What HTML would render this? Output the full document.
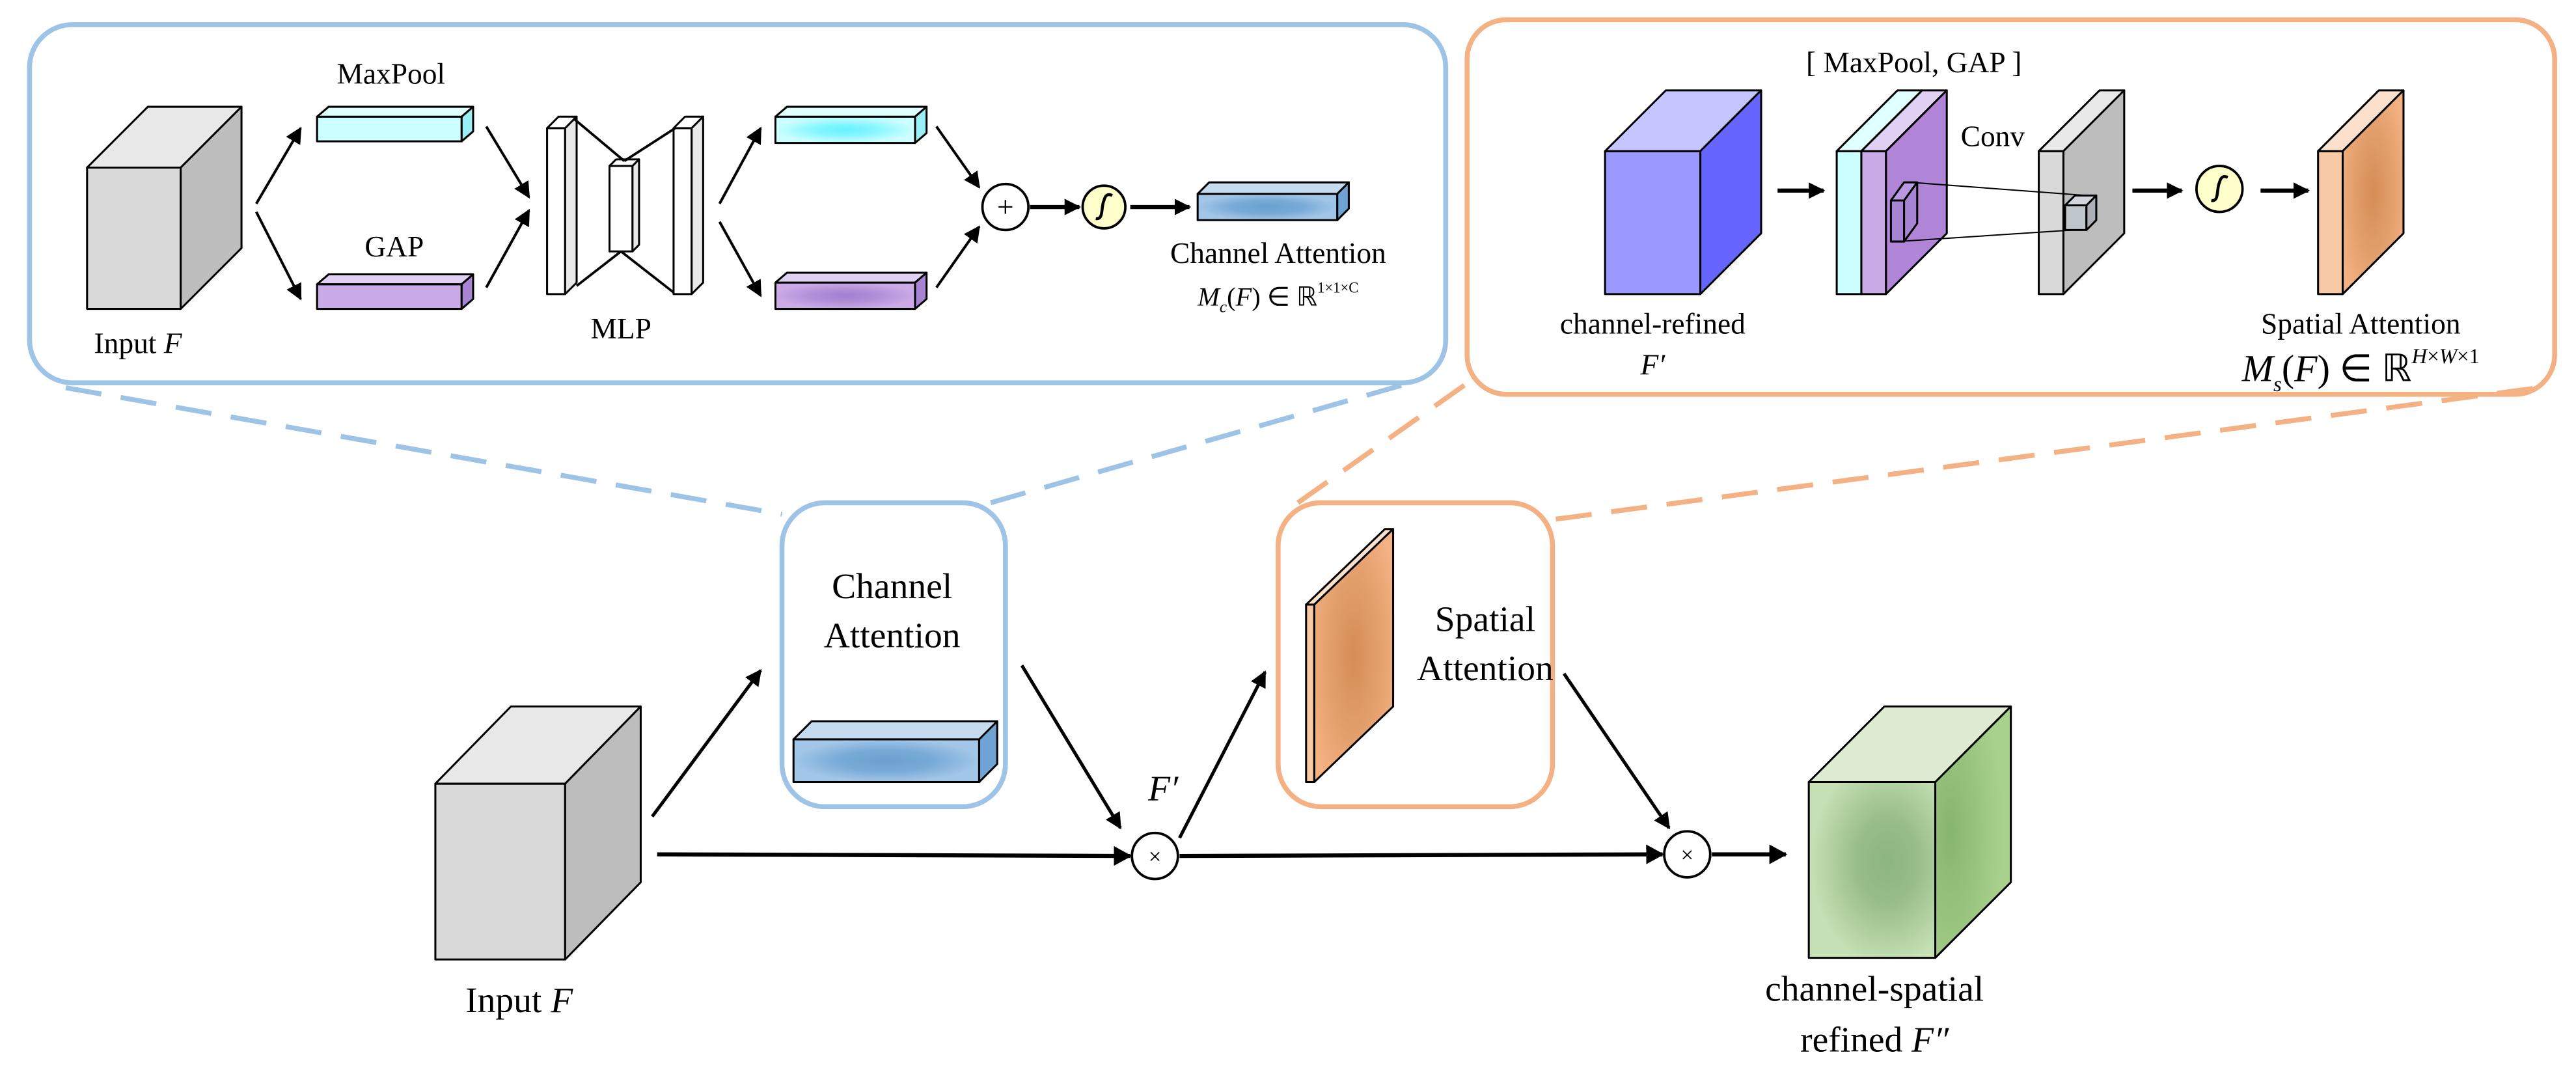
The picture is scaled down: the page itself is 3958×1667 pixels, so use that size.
<!DOCTYPE html>
<html><head><meta charset="utf-8"><style>html,body{margin:0;padding:0;background:#fff}svg{display:block}</style></head>
<body>
<svg width="3958" height="1667" viewBox="0 0 1568 660.4" xmlns="http://www.w3.org/2000/svg" font-family="'Liberation Serif', serif">
<defs>
<marker id="ah" markerWidth="10" markerHeight="10" refX="9" refY="5" orient="auto" markerUnits="userSpaceOnUse"><path d="M0,0 L10,5 L0,10 Z" fill="#000"/></marker>
<marker id="ah2" markerWidth="12" markerHeight="12" refX="10" refY="6" orient="auto" markerUnits="userSpaceOnUse"><path d="M0,0 L11,6 L0,12 Z" fill="#000"/></marker>
<radialGradient id="gb" cx="0.5" cy="0.5" r="0.5"><stop offset="0" stop-color="#6aa0cf"/><stop offset="0.5" stop-color="#78aad6"/><stop offset="1" stop-color="#a2c6e8"/></radialGradient>
<radialGradient id="gc" cx="0.5" cy="0.5" r="0.5"><stop offset="0" stop-color="#66f2ff"/><stop offset="0.45" stop-color="#88f6ff"/><stop offset="1" stop-color="#ccffff"/></radialGradient>
<radialGradient id="gp" cx="0.5" cy="0.5" r="0.5"><stop offset="0" stop-color="#a47ed2"/><stop offset="0.45" stop-color="#b08ed8"/><stop offset="1" stop-color="#cbaae6"/></radialGradient>
<radialGradient id="go" cx="0.5" cy="0.5" r="0.6"><stop offset="0" stop-color="#d68c55"/><stop offset="0.55" stop-color="#e3a06c"/><stop offset="1" stop-color="#f4b183"/></radialGradient>
<radialGradient id="gg" cx="0.62" cy="0.45" r="0.6"><stop offset="0" stop-color="#8db57e"/><stop offset="0.4" stop-color="#98bd88"/><stop offset="1" stop-color="#c5e0b4"/></radialGradient>
<radialGradient id="gs" cx="0.2" cy="0.5" r="0.7"><stop offset="0" stop-color="#86b56f"/><stop offset="1" stop-color="#a9d18e"/></radialGradient>
</defs>
<g stroke-linejoin="round">
<rect x="18" y="15" width="862" height="218" rx="26" fill="#fff" stroke="#9dc3e6" stroke-width="3"/>
<rect x="893" y="12" width="662" height="228" rx="24" fill="#fff" stroke="#f4b183" stroke-width="3"/>
<g stroke-width="3" stroke-dasharray="22,12" fill="none">
<line x1="40" y1="236" x2="476" y2="313" stroke="#9dc3e6"/>
<line x1="603" y1="306" x2="862" y2="232" stroke="#9dc3e6"/>
<line x1="790" y1="306" x2="892" y2="234" stroke="#f4b183"/>
<line x1="947" y1="316" x2="1545" y2="236" stroke="#f4b183"/>
</g>
<rect x="476" y="306" width="136" height="185" rx="26" fill="#fff" stroke="#9dc3e6" stroke-width="3"/>
<rect x="778" y="306" width="167" height="185" rx="26" fill="#fff" stroke="#f4b183" stroke-width="3"/>
</g>
<g stroke="#000" stroke-width="1.2" stroke-linejoin="round">
<rect x="265" y="477" width="79" height="107" fill="#d9d9d9"/>
<polygon points="265,477 311,430 390,430 344,477" fill="#e8e8e8"/>
<polygon points="344,477 390,430 390,537 344,584" fill="#bdbdbd"/>
<rect x="483" y="450" width="113" height="26" fill="url(#gb)"/>
<polygon points="483,450 494,439 607,439 596,450" fill="#c5dcf0"/>
<polygon points="596,450 607,439 607,465 596,476" fill="#6fa3d3"/>
<rect x="795" y="368" width="5" height="108" fill="#f6c8a4"/>
<polygon points="795,368 843,322 848,322 800,368" fill="#fbe0cc"/>
<polygon points="800,368 848,322 848,430 800,476" fill="url(#go)"/>
<rect x="1101" y="476" width="77" height="107" fill="url(#gg)"/>
<polygon points="1101,476 1147,430 1224,430 1178,476" fill="#dcebd2"/>
<polygon points="1178,476 1224,430 1224,537 1178,583" fill="url(#gs)"/>
</g>
<g stroke="#000" stroke-width="2" fill="none">
<line x1="397" y1="497" x2="463" y2="408" marker-end="url(#ah)"/>
<line x1="622" y1="405" x2="682" y2="504" marker-end="url(#ah)"/>
<line x1="400" y1="520" x2="688" y2="521" stroke-width="2.5" marker-end="url(#ah2)"/>
<line x1="718" y1="510" x2="770" y2="409" marker-end="url(#ah)"/>
<line x1="952" y1="410" x2="1016" y2="504" marker-end="url(#ah)"/>
<line x1="718" y1="521" x2="1012" y2="520" stroke-width="2.5" marker-end="url(#ah2)"/>
<line x1="1042" y1="520" x2="1087" y2="520" stroke-width="2.5" marker-end="url(#ah2)"/>
</g>
<circle cx="703" cy="521" r="14" fill="#fff" stroke="#000" stroke-width="1.5"/>
<text x="703" y="526" font-size="14" text-anchor="middle">×</text>
<circle cx="1027" cy="520" r="14" fill="#fff" stroke="#000" stroke-width="1.5"/>
<text x="1027" y="525" font-size="14" text-anchor="middle">×</text>
<g font-size="22" text-anchor="middle" fill="#000">
<text x="543" y="364">Channel</text>
<text x="543" y="394">Attention</text>
<text x="904" y="384">Spatial</text>
<text x="904" y="414">Attention</text>
<text x="316" y="616">Input <tspan font-style="italic">F</tspan></text>
<text x="1141" y="609">channel-spatial</text>
<text x="1141" y="640">refined  <tspan font-style="italic">F″</tspan></text>
<text x="708" y="487" font-style="italic">F′</text>
</g>

<g stroke="#000" stroke-width="1.2" stroke-linejoin="round">
<rect x="53" y="102" width="57" height="86" fill="#d9d9d9"/>
<polygon points="53,102 90,65 147,65 110,102" fill="#e8e8e8"/>
<polygon points="110,102 147,65 147,151 110,188" fill="#bdbdbd"/>
<rect x="193" y="71" width="88" height="15" fill="#ccffff"/>
<polygon points="193,71 200,65 288,65 281,71" fill="#e0ffff"/>
<polygon points="281,71 288,65 288,80 281,86" fill="#99f0f5"/>
<rect x="193" y="173" width="88" height="15" fill="#c9a9e6"/>
<polygon points="193,173 200,167 288,167 281,173" fill="#e0d0f2"/>
<polygon points="281,173 288,167 288,182 281,188" fill="#a884d4"/>
<rect x="333" y="78" width="11" height="101" fill="#fff"/>
<polygon points="333,78 340,71 351,71 344,78" fill="#fff"/>
<polygon points="344,78 351,71 351,172 344,179" fill="#e8e8e8"/>
<rect x="371" y="101" width="14" height="52" fill="#fff"/>
<polygon points="371,101 375,97 389,97 385,101" fill="#fff"/>
<polygon points="385,101 389,97 389,149 385,153" fill="#e8e8e8"/>
<rect x="410" y="78" width="11" height="101" fill="#fff"/>
<polygon points="410,78 417,71 428,71 421,78" fill="#fff"/>
<polygon points="421,78 428,71 428,172 421,179" fill="#e8e8e8"/>
<g fill="none" stroke-width="1.5">
<line x1="349" y1="72" x2="380" y2="98"/><line x1="380" y1="98" x2="411" y2="78"/>
<line x1="351" y1="174" x2="378" y2="153"/><line x1="378" y1="153" x2="410" y2="178"/>
</g>
<rect x="472" y="71" width="85" height="16" fill="url(#gc)"/>
<polygon points="472,71 479,65 564,65 557,71" fill="#e0ffff"/>
<polygon points="557,71 564,65 564,81 557,87" fill="#99f0f5"/>
<rect x="472" y="172" width="85" height="16" fill="url(#gp)"/>
<polygon points="472,172 479,166 564,166 557,172" fill="#e0d0f2"/>
<polygon points="557,172 564,166 564,182 557,188" fill="#a884d4"/>
<rect x="729" y="118" width="85" height="16" fill="url(#gb)"/>
<polygon points="729,118 736,111 821,111 814,118" fill="#c5dcf0"/>
<polygon points="814,118 821,111 821,127 814,134" fill="#6fa3d3"/>
</g>
<g stroke="#000" stroke-width="1.6" fill="none">
<line x1="156" y1="124" x2="183" y2="78" marker-end="url(#ah)"/>
<line x1="156" y1="129" x2="183" y2="182" marker-end="url(#ah)"/>
<line x1="296" y1="77" x2="322" y2="120" marker-end="url(#ah)"/>
<line x1="296" y1="175" x2="322" y2="128" marker-end="url(#ah)"/>
<line x1="438" y1="124" x2="463" y2="78" marker-end="url(#ah)"/>
<line x1="438" y1="135" x2="463" y2="180" marker-end="url(#ah)"/>
<line x1="570" y1="77" x2="596" y2="114" marker-end="url(#ah)"/>
<line x1="570" y1="175" x2="596" y2="138" marker-end="url(#ah)"/>
<line x1="627" y1="126" x2="657" y2="126" stroke-width="2.5" marker-end="url(#ah)"/>
<line x1="688" y1="126" x2="724" y2="126" stroke-width="2.5" marker-end="url(#ah)"/>
</g>
<circle cx="612" cy="126" r="14" fill="#fff" stroke="#000" stroke-width="1.5"/>
<text x="612" y="132" font-size="18" text-anchor="middle">+</text>
<circle cx="672" cy="126" r="13" fill="#ffffcc" stroke="#000" stroke-width="1.5"/>
<path d="M667,133 C672,134 670,126 672,122 C673,118 675,118 677,119" fill="none" stroke="#000" stroke-width="1.8"/>
<g font-size="18" text-anchor="middle">
<text x="238" y="51">MaxPool</text>
<text x="240" y="156">GAP</text>
<text x="378" y="206">MLP</text>
<text x="84" y="215">Input <tspan font-style="italic">F</tspan></text>
<text x="778" y="160">Channel Attention</text>
<text x="778" y="186" font-size="16"><tspan font-style="italic">M</tspan><tspan font-style="italic" font-size="10" dy="4">c</tspan><tspan dy="-4">(</tspan><tspan font-style="italic">F</tspan>) ∈ ℝ<tspan font-size="9" dy="-8">1×1×C</tspan></text>
</g>

<g stroke="#000" stroke-width="1.2" stroke-linejoin="round">
<rect x="977" y="92" width="58" height="87" fill="#9999ff"/>
<polygon points="977,92 1014,55 1072,55 1035,92" fill="#c5c5ff"/>
<polygon points="1035,92 1072,55 1072,142 1035,179" fill="#6666ff"/>
<rect x="1118" y="92" width="15" height="87" fill="#ccffff"/>
<polygon points="1118,92 1155,55 1170,55 1133,92" fill="#e0ffff"/>
<rect x="1133" y="92" width="15" height="87" fill="#c9a9e6"/>
<polygon points="1133,92 1170,55 1185,55 1148,92" fill="#e0d0f2"/>
<polygon points="1148,92 1185,55 1185,142 1148,179" fill="#b085d8"/>
<rect x="1151" y="122" width="8" height="25" fill="#a884d4"/>
<polygon points="1151,122 1159,111 1167,111 1159,122" fill="#b99ae0"/>
<polygon points="1159,122 1167,111 1167,136 1159,147" fill="#a884d4"/>
<rect x="1241" y="92" width="15" height="87" fill="#d9d9d9"/>
<polygon points="1241,92 1278,55 1293,55 1256,92" fill="#e8e8e8"/>
<polygon points="1256,92 1293,55 1293,142 1256,179" fill="#bdbdbd"/>
<rect x="1257" y="125" width="13" height="15" fill="#bfc6cc"/>
<polygon points="1257,125 1263,119 1276,119 1270,125" fill="#d0d6dc"/>
<polygon points="1270,125 1276,119 1276,134 1270,140" fill="#aab0b6"/>
<line x1="1163" y1="111" x2="1270" y2="119" stroke-width="0.8"/>
<line x1="1155" y1="147" x2="1262" y2="140" stroke-width="0.8"/>
<rect x="1411" y="92" width="15" height="87" fill="#f6c8a4"/>
<polygon points="1411,92 1448,55 1463,55 1426,92" fill="#fbe0cc"/>
<polygon points="1426,92 1463,55 1463,142 1426,179" fill="url(#go)"/>
</g>
<g stroke="#000" stroke-width="2.5" fill="none">
<line x1="1082" y1="116" x2="1110" y2="116" marker-end="url(#ah)"/>
<line x1="1298" y1="116" x2="1328" y2="116" marker-end="url(#ah)"/>
<line x1="1376" y1="116" x2="1405" y2="116" marker-end="url(#ah)"/>
</g>
<circle cx="1351" cy="115" r="14" fill="#ffffcc" stroke="#000" stroke-width="1.5"/>
<path d="M1346,122 C1351,123 1349,115 1351,111 C1352,107 1354,107 1356,108" fill="none" stroke="#000" stroke-width="1.8"/>
<g font-size="18" text-anchor="middle">
<text x="1165" y="44">[ MaxPool, GAP ]</text>
<text x="1213" y="89">Conv</text>
<text x="1006" y="203">channel-refined</text>
<text x="1006" y="228" font-style="italic">F′</text>
<text x="1437" y="203">Spatial Attention</text>
<text x="1437" y="232" font-size="23"><tspan font-style="italic">M</tspan><tspan font-style="italic" font-size="13" dy="6">s</tspan><tspan dy="-6">(</tspan><tspan font-style="italic">F</tspan>) ∈ ℝ<tspan font-size="13" dy="-11"><tspan font-style="italic">H</tspan>×<tspan font-style="italic">W</tspan>×1</tspan></text>
</g>
</svg>
</body></html>
